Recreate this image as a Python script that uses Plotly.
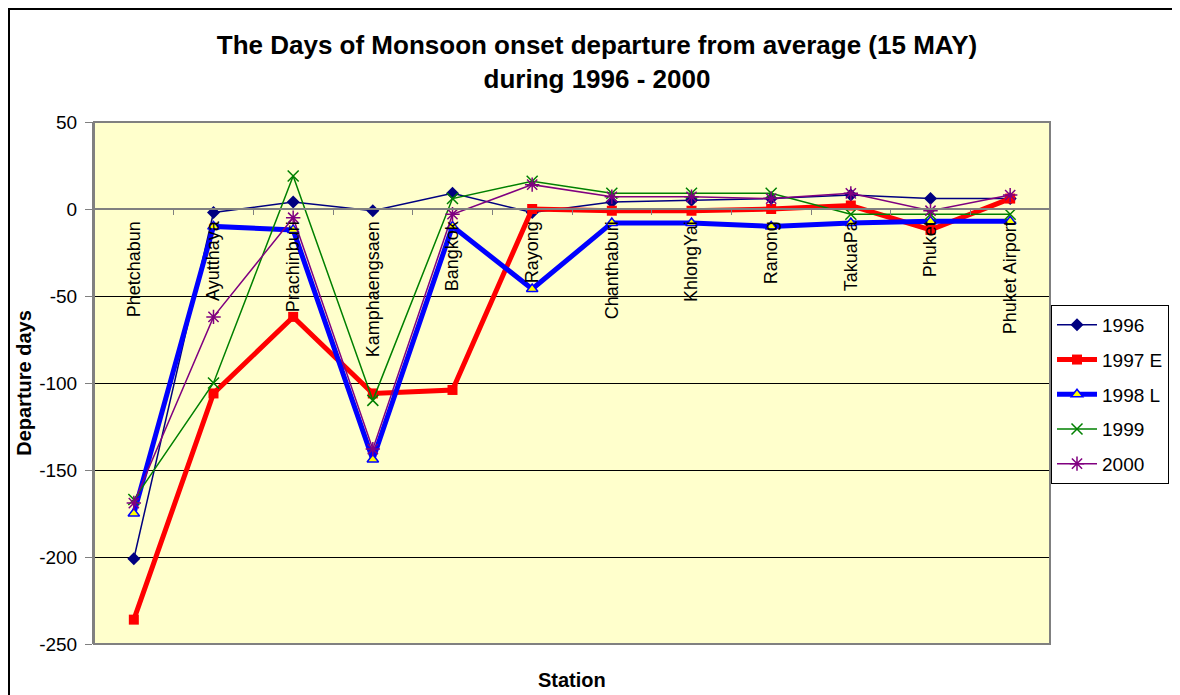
import plotly.graph_objects as go

stations = ["Phetchabun", "Ayutthaya", "Prachinburi", "Kamphaengsaen", "Bangkok", "Rayong",
            "Chanthaburi", "KhlongYai", "Ranong", "TakuaPa", "Phuket", "Phuket Airport"]

y1996 = [-201, -2, 4, -1, 9, -2, 4, 5, 6, 8, 6, 6]
y1997 = [-236, -106, -62, -106, -104, 0, -1, -1, 0, 2, -12, 6]
y1998 = [-175, -10, -12, -144, -10, -46, -8, -8, -10, -8, -7, -7]
y1999 = [-167, -100, 19, -110, 6, 16, 9, 9, 9, -3, -3, -3]
y2000 = [-169, -62, -5, -138, -3, 14, 7, 7, 6, 9, -1, 8]

yticks = [50, 0, -50, -100, -150, -200, -250]

FONT = "Liberation Sans, Arial, sans-serif"

fig = go.Figure()
series = [
    ("1996", y1996, dict(color="#000080", width=1.5), dict(symbol="diamond", size=10, color="#000080")),
    ("1997 E", y1997, dict(color="#FF0000", width=5), dict(symbol="square", size=10, color="#FF0000")),
    ("1998 L", y1998, dict(color="#0000FF", width=5),
     dict(symbol="triangle-up", size=10, color="#FFFF00", line=dict(color="#0000FF", width=1.5))),
    ("1999", y1999, dict(color="#008000", width=1.5),
     dict(symbol="x-thin-open", size=11, color="#008000", line=dict(color="#008000", width=1.5))),
    ("2000", y2000, dict(color="#800080", width=1.5),
     dict(symbol="asterisk-open", size=12, color="#800080", line=dict(color="#800080", width=1.5))),
]
for name, ys, ln, mk in series:
    fig.add_trace(go.Scatter(x=stations, y=ys, name=name, mode="lines+markers",
                             line=ln, marker=mk, legendgroup=name))

W, H = 1180, 695
L, R, T, B = 86, 138, 114, 59
ph = H - T - B
pw = W - L - R
ybot = H - B  # pixel of plot bottom

fig.update_layout(
    width=W, height=H,
    margin=dict(l=L, r=R, t=T, b=B),
    paper_bgcolor="white",
    plot_bgcolor="#FFFFCC",
    font=dict(family=FONT, size=18, color="black"),
    title=dict(text="<b>The Days of Monsoon onset departure from average (15 MAY)<br>during 1996 - 2000</b>",
               x=589 / W, xref="container", xanchor="center",
               y=1 - 46 / H, yref="container", yanchor="top",
               font=dict(family=FONT, size=26, color="black")),
    showlegend=True,
    legend=dict(x=(1043 - L) / pw, xanchor="left", y=(ybot - 297) / ph, yanchor="top",
                bgcolor="white", bordercolor="black", borderwidth=1,
                itemwidth=40,
                font=dict(family=FONT, size=19), tracegroupgap=7),
    xaxis=dict(
        type="category", range=[-0.5, 11.5],
        anchor="free", position=250 / 300,
        showline=True, linecolor="#808080", linewidth=2,
        ticks="outside", tickson="boundaries", ticklen=5, tickcolor="#808080",
        ticklabelstandoff=4,
        tickangle=-90, showgrid=False, zeroline=False,
        tickfont=dict(family=FONT, size=18),
    ),
    yaxis=dict(
        range=[-250, 50], tickvals=yticks, ticktext=[str(v) for v in yticks],
        showgrid=True, gridcolor="black", gridwidth=1,
        zeroline=False,
        showline=True, linecolor="#808080", linewidth=2,
        ticks="outside", ticklen=7, tickcolor="#808080",
        ticklabelstandoff=4,
        tickfont=dict(family=FONT, size=19),
        title=dict(text="<b>Departure days</b>", font=dict(family=FONT, size=20), standoff=2),
    ),
    shapes=[
        dict(type="rect", xref="paper", yref="paper", x0=0, x1=1, y0=0, y1=1,
             line=dict(color="#808080", width=2), layer="above"),
        dict(type="rect", xref="paper", yref="paper",
             x0=(1 - L) / pw, x1=(W + 30 - L) / pw,
             y0=(ybot - (H + 30)) / ph, y1=(ybot - 1) / ph,
             line=dict(color="black", width=2), layer="below"),
    ],
    annotations=[
        dict(text="<b>Station</b>", xref="paper", yref="paper", x=0.5, y=(ybot - 672) / ph,
             xanchor="center", yanchor="middle", showarrow=False,
             font=dict(family=FONT, size=20, color="black")),
    ],
)

fig.write_html("out.html")
